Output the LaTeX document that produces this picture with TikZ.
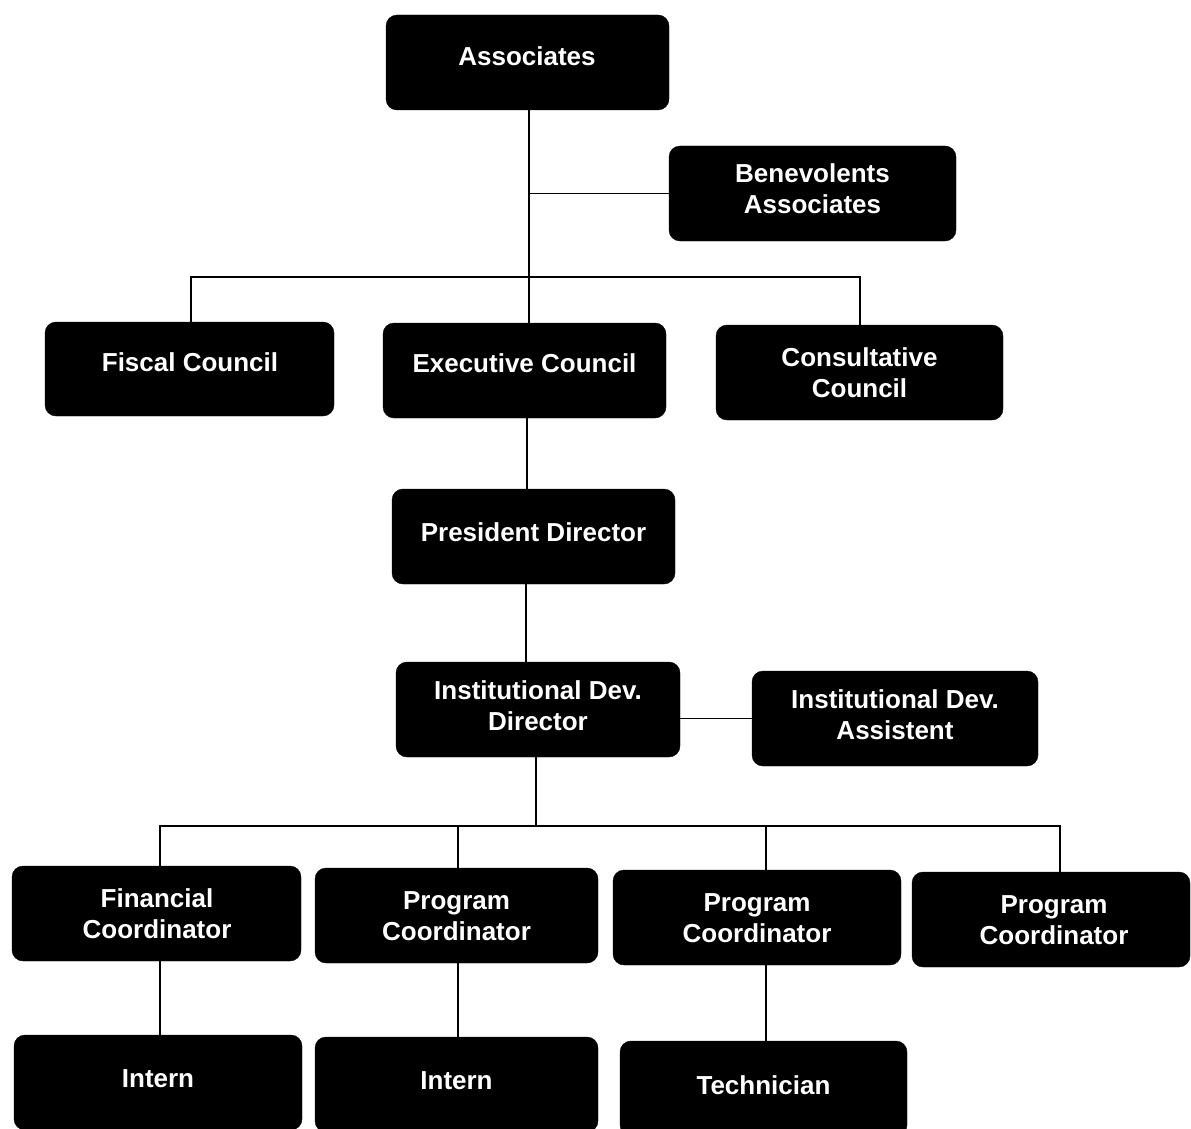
\documentclass[tikz,border=0pt]{standalone}
\usepackage{fontspec}
\setmainfont{Liberation Sans}
\begin{document}
\begin{tikzpicture}[x=1pt,y=-1pt,
  orgbox/.style={draw=black,fill=black,rounded corners=11pt,minimum height=95pt,inner sep=0pt},
  orgtxt/.style={text=white,font=\bfseries\fontsize{26}{31}\selectfont,align=center,inner sep=0pt},
  conn/.style={draw=black,line width=1.6pt}]
\useasboundingbox (0,0) rectangle (1191,1129);
% boxes
\node[orgbox,minimum width=283pt] (assoc) at (527.5,62.5) {};
\node[orgbox,minimum width=287pt] (bene) at (812.5,193.5) {};
\node[orgbox,minimum width=289pt,minimum height=94pt] (fiscal) at (189.5,369) {};
\node[orgbox,minimum width=283pt] (exec) at (524.5,370.5) {};
\node[orgbox,minimum width=287pt] (consult) at (859.5,372.5) {};
\node[orgbox,minimum width=283pt] (pres) at (533.5,536.5) {};
\node[orgbox,minimum width=284pt] (idd) at (538,709.5) {};
\node[orgbox,minimum width=286pt] (asst) at (895,718.5) {};
\node[orgbox,minimum width=289pt] (fin) at (156.5,913.5) {};
\node[orgbox,minimum width=283pt] (pcA) at (456.5,915.5) {};
\node[orgbox,minimum width=288pt] (pcB) at (757,917.5) {};
\node[orgbox,minimum width=278pt] (pcC) at (1051,919.5) {};
\node[orgbox,minimum width=288pt] (intA) at (158,1082.5) {};
\node[orgbox,minimum width=283pt] (intB) at (456.5,1084.5) {};
\node[orgbox,minimum width=287pt] (tech) at (763.5,1088.5) {};
% texts
\node[orgtxt] (tassoc) at (527,56) {Associates};
\node[orgtxt] (tbene) at (812.5,189) {Benevolents\\Associates};
\node[orgtxt] (tfiscal) at (190,362) {Fiscal Council};
\node[orgtxt] (texec) at (524.5,363) {Executive Council};
\node[orgtxt] (tconsult) at (859.5,372.5) {Consultative\\Council};
\node[orgtxt] (tpres) at (533.5,532) {President Director};
\node[orgtxt] (tidd) at (538,706) {Institutional Dev.\\Director};
\node[orgtxt] (tasst) at (895,715) {Institutional Dev.\\Assistent};
\node[orgtxt] (tfin) at (157,914) {Financial\\Coordinator};
\node[orgtxt] (tpcA) at (456.5,916) {Program\\Coordinator};
\node[orgtxt] (tpcB) at (757,918) {Program\\Coordinator};
\node[orgtxt] (tpcC) at (1054,920) {Program\\Coordinator};
\node[orgtxt] (tintA) at (158,1079) {Intern};
\node[orgtxt] (tintB) at (456.5,1081) {Intern};
\node[orgtxt] (ttech) at (763.5,1085) {Technician};
% connectors
\coordinate (busA) at (529,277);
\coordinate (busB) at (536,826);
\draw[conn] ([xshift=1.5]assoc.south) -- ([xshift=4.5]exec.north);
\draw[conn] (bene.west) -- (bene.west -| busA);
\draw[conn] ([xshift=1.5]fiscal.north) |- (busA) -| ([xshift=0.5]consult.north);
\draw[conn] ([xshift=2.5]exec.south) -- ([xshift=-6.5]pres.north);
\draw[conn] ([xshift=-7.5]pres.south) -- ([xshift=-12]idd.north);
\draw[conn] (idd.east |- asst.west) -- (asst.west);
\draw[conn] ([xshift=-2]idd.south) -- (busB);
\draw[conn] ([xshift=3.5]fin.north) |- (busB) -| ([xshift=9]pcC.north);
\draw[conn] ([xshift=1.5]pcA.north) -- ([xshift=1.5]pcA.north |- busB);
\draw[conn] ([xshift=9]pcB.north) -- ([xshift=9]pcB.north |- busB);
\draw[conn] ([xshift=3.5]fin.south) -- ([xshift=2]intA.north);
\draw[conn] ([xshift=1.5]pcA.south) -- ([xshift=1.5]intB.north);
\draw[conn] ([xshift=9]pcB.south) -- ([xshift=2.5]tech.north);
\end{tikzpicture}
\end{document}
